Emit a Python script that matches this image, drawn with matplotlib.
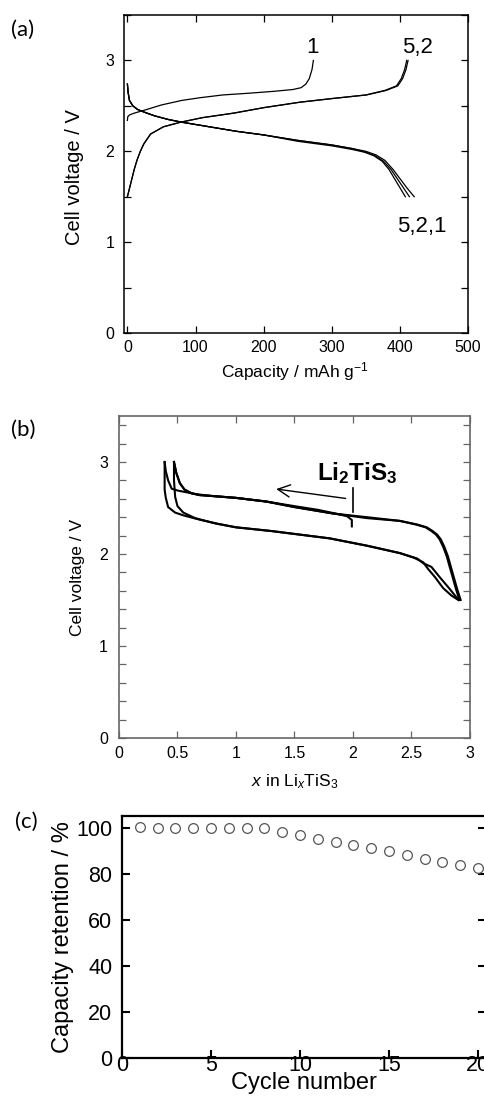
import matplotlib.pyplot as plt
from matplotlib.ticker import MultipleLocator

plt.rcParams['font.family'] = ['Liberation Sans', 'DejaVu Sans']
plt.rcParams['mathtext.fontset'] = 'custom'
plt.rcParams['mathtext.rm'] = 'Liberation Sans'
plt.rcParams['mathtext.it'] = 'Liberation Sans:italic'
plt.rcParams['mathtext.bf'] = 'Liberation Sans:bold'

# (a) capacity vs voltage, cycles 1, 2, 5
dis1_cap = [0, 1, 3, 8, 15, 25, 40, 60, 80, 120, 160, 200, 250, 300, 330, 350, 365, 378, 390, 400, 410, 421]
dis1_v = [2.74, 2.65, 2.56, 2.50, 2.46, 2.43, 2.39, 2.35, 2.32, 2.27, 2.22, 2.18, 2.12, 2.07, 2.03, 2.00, 1.96, 1.90, 1.80, 1.70, 1.60, 1.50]
dis2_cap = [0, 1, 3, 8, 15, 25, 40, 60, 80, 120, 160, 200, 250, 300, 330, 350, 364, 376, 387, 396, 405, 414]
dis2_v = [2.74, 2.65, 2.56, 2.50, 2.46, 2.43, 2.39, 2.35, 2.32, 2.27, 2.22, 2.18, 2.12, 2.07, 2.03, 1.99, 1.95, 1.89, 1.80, 1.70, 1.60, 1.50]
dis5_cap = [0, 1, 3, 8, 15, 25, 40, 60, 80, 120, 160, 200, 250, 300, 330, 348, 362, 374, 384, 392, 400, 408]
dis5_v = [2.74, 2.65, 2.56, 2.50, 2.46, 2.43, 2.39, 2.35, 2.32, 2.27, 2.22, 2.18, 2.11, 2.06, 2.02, 1.99, 1.95, 1.89, 1.80, 1.70, 1.60, 1.50]

chg1_cap = [0, 0.5, 3, 10, 24, 50, 80, 107, 140, 180, 215, 243, 255, 262, 267, 271, 273]
chg1_v = [2.34, 2.38, 2.40, 2.42, 2.45, 2.51, 2.56, 2.59, 2.62, 2.64, 2.66, 2.68, 2.70, 2.74, 2.80, 2.90, 3.00]
chg2_cap = [0, 5, 10, 14, 19, 24, 34, 53, 78, 110, 156, 200, 253, 300, 351, 380, 397, 404, 409, 412]
chg2_v = [1.50, 1.65, 1.80, 1.90, 2.00, 2.08, 2.19, 2.27, 2.32, 2.37, 2.42, 2.48, 2.54, 2.58, 2.62, 2.67, 2.72, 2.80, 2.90, 3.00]
chg5_cap = [0, 5, 10, 14, 19, 24, 34, 53, 78, 110, 156, 200, 253, 300, 350, 378, 395, 402, 407, 410]
chg5_v = [1.50, 1.65, 1.80, 1.90, 2.00, 2.08, 2.19, 2.27, 2.32, 2.37, 2.42, 2.48, 2.54, 2.58, 2.62, 2.67, 2.72, 2.80, 2.90, 3.00]

# (b) x in LixTiS3 vs voltage
b_chg1_x = [1.99, 1.99, 1.95, 1.85, 1.70, 1.50, 1.26, 1.00, 0.80, 0.69, 0.62, 0.56, 0.52, 0.49, 0.47]
b_chg1_v = [2.30, 2.37, 2.41, 2.44, 2.48, 2.52, 2.57, 2.61, 2.63, 2.64, 2.66, 2.70, 2.77, 2.88, 3.00]
b_dis1_x = [0.47, 0.47, 0.48, 0.50, 0.55, 0.65, 0.83, 1.00, 1.30, 1.55, 1.80, 2.12, 2.40, 2.55, 2.60, 2.67, 2.74, 2.82, 2.89]
b_dis1_v = [3.00, 2.80, 2.62, 2.52, 2.45, 2.39, 2.33, 2.29, 2.25, 2.21, 2.17, 2.09, 2.01, 1.95, 1.90, 1.86, 1.75, 1.63, 1.52]
b_chg2_x = [2.91, 2.88, 2.84, 2.80, 2.77, 2.74, 2.71, 2.67, 2.62, 2.54, 2.40, 2.12, 1.83, 1.50, 1.26, 1.00, 0.80, 0.66, 0.58, 0.50, 0.45, 0.42, 0.40, 0.39]
b_chg2_v = [1.50, 1.62, 1.80, 1.98, 2.08, 2.16, 2.21, 2.25, 2.29, 2.32, 2.36, 2.39, 2.44, 2.51, 2.57, 2.61, 2.63, 2.65, 2.67, 2.69, 2.71, 2.80, 2.90, 3.00]
b_dis2_x = [0.39, 0.39, 0.40, 0.42, 0.48, 0.55, 0.70, 0.84, 1.00, 1.30, 1.55, 1.80, 2.12, 2.40, 2.52, 2.60, 2.64, 2.70, 2.77, 2.84, 2.90]
b_dis2_v = [3.00, 2.70, 2.61, 2.51, 2.45, 2.42, 2.37, 2.33, 2.29, 2.25, 2.21, 2.17, 2.09, 2.01, 1.96, 1.91, 1.84, 1.75, 1.63, 1.55, 1.50]
b_chg3_x = [2.92, 2.89, 2.85, 2.81, 2.78, 2.75, 2.72, 2.68, 2.63, 2.55, 2.40, 2.12, 1.83, 1.50, 1.26, 1.00, 0.80, 0.69, 0.62, 0.56, 0.52, 0.49, 0.47]
b_chg3_v = [1.50, 1.62, 1.80, 1.98, 2.08, 2.16, 2.21, 2.25, 2.29, 2.32, 2.36, 2.40, 2.44, 2.51, 2.57, 2.61, 2.63, 2.64, 2.66, 2.70, 2.77, 2.88, 3.00]

# (c) capacity retention
cycles = list(range(1, 21))
retention = [100.1, 100.0, 100.0, 99.9, 99.8, 99.7, 99.7, 99.6, 98.1, 96.8, 95.2, 93.9, 92.6, 91.0,
             89.6, 88.1, 86.5, 85.2, 83.9, 82.5]

W, H = 485, 1103
fig = plt.figure(figsize=(W / 100, H / 100), dpi=100)


def rect(l, t, r, b):
    return [l / W, (H - b) / H, (r - l) / W, (b - t) / H]


# ---- (a)
ax = fig.add_axes(rect(124, 15, 468, 333))
for c, v in [(dis1_cap, dis1_v), (dis2_cap, dis2_v), (dis5_cap, dis5_v),
             (chg1_cap, chg1_v), (chg2_cap, chg2_v), (chg5_cap, chg5_v)]:
    ax.plot(c, v, color='black', lw=0.9)
ax.set_xlim(-5, 500)
ax.set_ylim(0, 3.5)
ax.xaxis.set_major_locator(MultipleLocator(100))
ax.yaxis.set_major_locator(MultipleLocator(1))
ax.yaxis.set_minor_locator(MultipleLocator(0.5))
ax.tick_params(which='both', direction='in', top=True, right=True, length=5, width=0.9,
               labelsize=11.5)
ax.tick_params(axis='y', pad=7)
ax.tick_params(axis='x', pad=5)
for s in ax.spines.values():
    s.set_linewidth(1.1)
ax.set_xlabel('Capacity / mAh g$^{-1}$', fontsize=12.5)
ax.set_ylabel('Cell voltage / V', fontsize=14.5)
ax.xaxis.set_label_coords(0.497, -0.085)
ax.yaxis.set_label_coords(-0.116, 0.49)
ax.text(272, 3.14, '1', fontsize=16, ha='center', va='center')
ax.text(426, 3.14, '5,2', fontsize=16, ha='center', va='center')
ax.text(432, 1.17, '5,2,1', fontsize=16, ha='center', va='center')
fig.text(23 / W, 1 - 30 / H, '(a)', fontsize=16, family='Lato', ha='center', va='center')

# ---- (b)
ax = fig.add_axes(rect(119, 416, 470, 738))
for x, v in [(b_chg1_x, b_chg1_v), (b_dis1_x, b_dis1_v), (b_chg2_x, b_chg2_v),
             (b_dis2_x, b_dis2_v), (b_chg3_x, b_chg3_v)]:
    ax.plot(x, v, color='black', lw=1.5)
ax.set_xlim(0, 3)
ax.set_ylim(0, 3.5)
ax.xaxis.set_major_locator(MultipleLocator(0.5))
ax.xaxis.set_major_formatter(plt.FuncFormatter(lambda v, p: '%g' % v))
ax.yaxis.set_major_locator(MultipleLocator(1))
ax.yaxis.set_minor_locator(MultipleLocator(0.2))
ax.tick_params(which='both', direction='in', top=True, right=True, length=5, width=0.9,
               color='#666666', labelsize=11.5)
ax.tick_params(axis='y', pad=8)
ax.tick_params(axis='x', pad=6)
for s in ax.spines.values():
    s.set_linewidth(1.2)
    s.set_color('#666666')
ax.set_xlabel(r'$\it{x}$ in Li$_{\it{x}}$TiS$_3$', fontsize=12.5)
ax.set_ylabel('Cell voltage / V', fontsize=12.5)
ax.xaxis.set_label_coords(0.5, -0.105)
ax.yaxis.set_label_coords(-0.098, 0.5)
ax.annotate('', xy=(1.32, 2.71), xytext=(1.96, 2.60),
            arrowprops=dict(arrowstyle='->', color='black', lw=1.0, mutation_scale=22))
ax.plot([2.0, 2.0], [2.46, 2.72], color='black', lw=1.2)
ax.text(2.04, 2.88, r'$\mathbf{Li_2TiS_3}$', fontsize=17.5, ha='center', va='center')
fig.text(23 / W, 1 - 430 / H, '(b)', fontsize=16, family='Lato', ha='center', va='center')

# ---- (c)
ax = fig.add_axes(rect(122, 816, 486, 1058))
ax.plot(cycles, retention, 'o', ls='none', mfc='none', mec='#555555', mew=0.9, ms=7)
ax.set_xlim(0, 20.45)
ax.set_ylim(0, 105)
ax.xaxis.set_major_locator(MultipleLocator(5))
ax.yaxis.set_major_locator(MultipleLocator(20))
ax.tick_params(direction='in', right=True, length=6, width=1.5, labelsize=15.5)
ax.tick_params(axis='y', pad=7)
ax.tick_params(axis='x', pad=-2)
for s in ax.spines.values():
    s.set_linewidth(1.6)
ax.set_xlabel('Cycle number', fontsize=17)
ax.set_ylabel('Capacity retention / %', fontsize=17)
ax.xaxis.label.set_va('baseline')
ax.xaxis.set_label_coords(0.5, -0.128)
ax.yaxis.set_label_coords(-0.131, 0.5)
fig.text(26 / W, 1 - 822 / H, '(c)', fontsize=16, family='Lato', ha='center', va='center')

fig.savefig('out.png', dpi=100)
